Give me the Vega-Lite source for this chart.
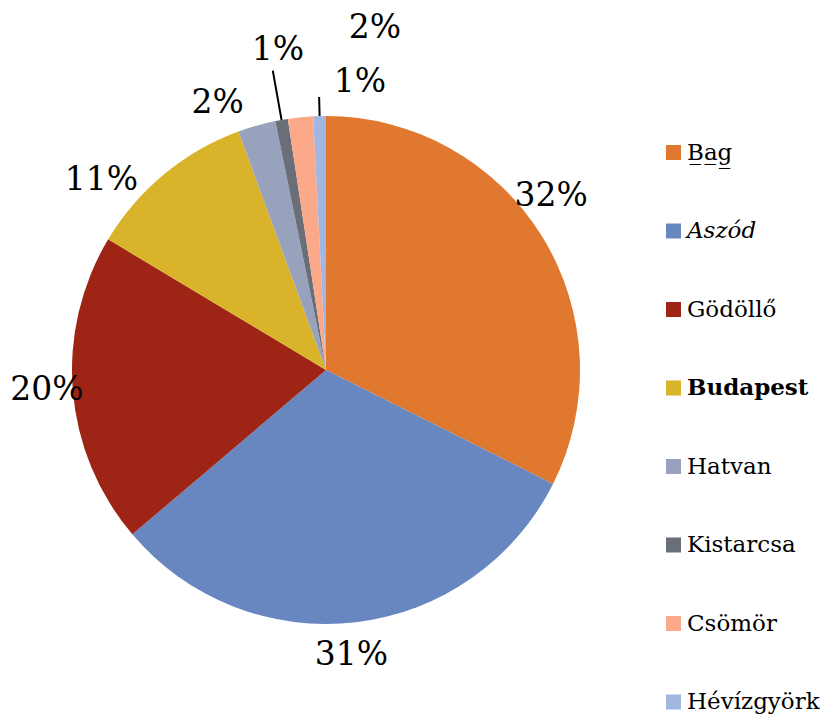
{
  "$schema": "https://vega.github.io/schema/vega-lite/v6.json",
  "width": 652,
  "height": 740,
  "autosize": {"type": "pad"},
  "padding": 0,
  "background": "white",
  "view": {"stroke": null},
  "data": {
    "values": [
      {"city": "Bag", "share": 0.324, "rank": 1},
      {"city": "Aszód", "share": 0.314, "rank": 2},
      {"city": "Gödöllő", "share": 0.198, "rank": 3},
      {"city": "Budapest", "share": 0.108, "rank": 4},
      {"city": "Hatvan", "share": 0.024, "rank": 5},
      {"city": "Kistarcsa", "share": 0.008, "rank": 6},
      {"city": "Csömör", "share": 0.016, "rank": 7},
      {"city": "Hévízgyörk", "share": 0.008, "rank": 8}
    ]
  },
  "encoding": {
    "theta": {"field": "share", "type": "quantitative", "stack": true},
    "order": {"field": "rank", "type": "quantitative"}
  },
  "layer": [
    {
      "mark": {"type": "arc", "radius": 254},
      "encoding": {
        "color": {
          "field": "city",
          "type": "nominal",
          "scale": {
            "domain": ["Bag", "Aszód", "Gödöllő", "Budapest", "Hatvan", "Kistarcsa", "Csömör", "Hévízgyörk"],
            "range": ["#E07830", "#6886C0", "#9E2515", "#D9B329", "#98A2BD", "#696E78", "#FCA98A", "#A2B6E2"]
          },
          "legend": {
            "title": null,
            "orient": "none",
            "legendX": 662,
            "legendY": 141,
            "padding": 0,
            "symbolType": "square",
            "symbolSize": 225,
            "symbolStrokeWidth": 0,
            "labelFont": "DejaVu Serif",
            "labelFontSize": 23,
            "labelColor": "black",
            "labelOffset": 2,
            "labelLimit": 300,
            "rowPadding": 54.5,
            "labelExpr": "datum.value == 'Bag' ? 'B̲a̲g̲' : datum.label",
            "encode": {
              "labels": {
                "update": {
                  "fontWeight": {"signal": "datum.value == 'Budapest' ? 'bold' : 'normal'"},
                  "fontStyle": {"signal": "datum.value == 'Aszód' ? 'italic' : 'normal'"}
                }
              }
            }
          }
        }
      }
    },
    {
      "mark": {
        "type": "arc",
        "filled": false,
        "padAngle": 0.3,
        "radius": {"expr": "datum.city == 'Kistarcsa' ? 304 : 273"},
        "radius2": 254,
        "strokeWidth": 2
      },
      "encoding": {
        "stroke": {
          "condition": {"test": "datum.city == 'Kistarcsa' || datum.city == 'Hévízgyörk'", "value": "black"},
          "value": null
        }
      }
    },
    {
      "mark": {
        "type": "text",
        "radius": 280,
        "font": "DejaVu Serif",
        "fontSize": 33,
        "align": "center",
        "baseline": "middle",
        "color": "black",
        "dx": {"expr": "[-13, -8, 0, -46, -32, 1, 77, 41][datum.rank - 1]"},
        "dy": {"expr": "[-27, 7, -3, 26, 2, -44, -63, -8][datum.rank - 1]"}
      },
      "encoding": {
        "text": {"field": "share", "type": "quantitative", "format": ".0%"}
      }
    }
  ]
}
